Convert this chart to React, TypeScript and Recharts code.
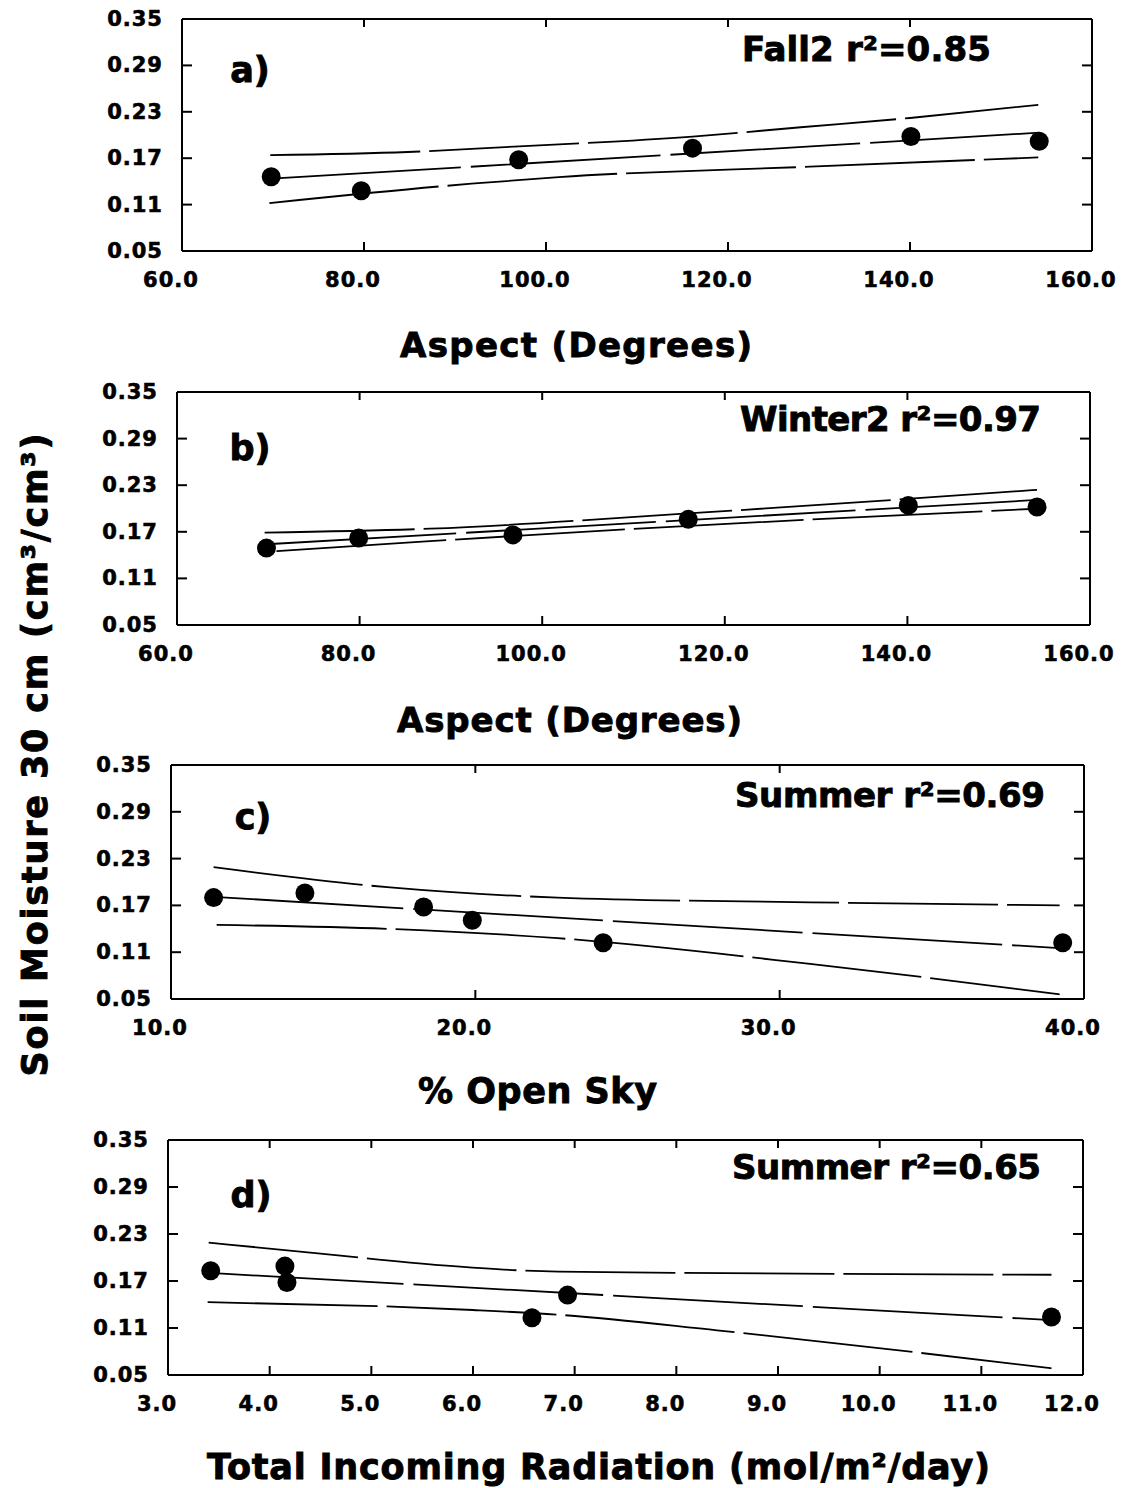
import { ComposedChart, Line, Scatter, XAxis, YAxis } from 'recharts';

type Pt = [number, number];

// a) Fall2: soil moisture against slope aspect
const fallAspect = [69.8, 79.7, 97.0, 116.1, 140.1, 154.2];
const fallMoisture = [0.146, 0.128, 0.168, 0.183, 0.198, 0.192];
const fallUpper: Pt[] = [[69.7, 0.174], [84.8, 0.178], [96.5, 0.185], [116.1, 0.198], [128, 0.21], [140, 0.222], [154.1, 0.239]];
const fallFit: Pt[] = [[69.8, 0.1435], [154.2, 0.203]];
const fallLower: Pt[] = [[69.6, 0.112], [91.8, 0.137], [101.4, 0.1456], [129, 0.159], [154.1, 0.171]];

// b) Winter2
const winterAspect = [69.8, 79.9, 96.8, 116.0, 140.1, 154.2];
const winterMoisture = [0.149, 0.162, 0.166, 0.186, 0.204, 0.202];
const winterUpper: Pt[] = [[69.6, 0.169], [87.7, 0.174], [115.1, 0.193], [154.2, 0.224]];
const winterFit: Pt[] = [[69.8, 0.154], [154.2, 0.211]];
const winterLower: Pt[] = [[70.9, 0.145], [87.7, 0.158], [115.1, 0.177], [154.2, 0.1997]];

// c) Summer vs % open sky
const skyOpen = [11.4, 14.4, 18.3, 19.9, 24.2, 39.3];
const skyMoisture = [0.180, 0.186, 0.168, 0.151, 0.122, 0.122];
const skyUpper: Pt[] = [[11.4, 0.219], [17.2, 0.193], [22.7, 0.180], [31, 0.174], [39.2, 0.170]];
const skyFit: Pt[] = [[11.4, 0.181], [39.3, 0.115]];
const skyLower: Pt[] = [[11.5, 0.145], [17.1, 0.140], [22.7, 0.128], [31.0, 0.095], [39.2, 0.056]];

// d) Summer vs total incoming radiation
const radiation = [3.42, 4.15, 4.17, 6.58, 6.93, 11.69];
const radMoisture = [0.183, 0.189, 0.168, 0.123, 0.152, 0.124];
const radUpper: Pt[] = [[3.4, 0.219], [4.5, 0.205], [5.7, 0.190], [6.84, 0.182], [11.69, 0.178]];
const radFit: Pt[] = [[3.45, 0.180], [11.69, 0.120]];
const radLower: Pt[] = [[3.39, 0.143], [6.0, 0.133], [6.83, 0.127], [8.4, 0.107], [11.69, 0.0585]];

const aspectTicks = [60, 80, 100, 120, 140, 160];
const skyTicks = [10, 20, 30, 40];
const radTicks = [3, 4, 5, 6, 7, 8, 9, 10, 11, 12];
const moistureTicks = [0.05, 0.11, 0.17, 0.23, 0.29, 0.35];

const W = 1125;
const H = 1488;
const FONT = '"DejaVu Sans", sans-serif';
const PAD_TOP = 20;
const PAD_BOTTOM = 50;
const LEFT_W = 70;
const BOTTOM_H = 45;
const MIRROR = 10;

const tickText = {
  fontFamily: FONT, fontWeight: 700, fontSize: 21, letterSpacing: 1, fill: '#000',
  stroke: '#000', strokeWidth: 0.6,
};
const labelText = { fontFamily: FONT, fontWeight: 700, fill: '#000', stroke: '#000', strokeWidth: 0.9 };

interface Box { left: number; right: number; top: number; bottom: number }

interface PanelProps {
  box: Box;
  xTicks: number[];
  xs: number[];
  ys: number[];
  upper: Pt[];
  fit: Pt[];
  lower: Pt[];
}

const rows = (pts: Pt[]) => pts.map(([x, y]) => ({ x, y }));
const inside = (v: number, ticks: number[]) => v !== ticks[0] && v !== ticks[ticks.length - 1];

function Panel({ box, xTicks, xs, ys, upper, fit, lower }: PanelProps) {
  const height = box.bottom - box.top + PAD_TOP + PAD_BOTTOM;
  const xDomain = [xTicks[0], xTicks[xTicks.length - 1]];
  const points = xs.map((x, i) => ({ x, y: ys[i] }));
  const axisLine = { stroke: '#000', strokeWidth: 2 };

  // x labels sit a little left of their tick marks
  const bottomTick = (p: any) => {
    const v = p.payload.value;
    return (
      <g>
        {inside(v, xTicks) && <line x1={p.x} x2={p.x} y1={p.y} y2={p.y - 9} stroke="#000" strokeWidth={2} />}
        <text x={p.x - 11} y={p.y + 29} textAnchor="middle" dominantBaseline="central" style={tickText}>
          {v.toFixed(1)}
        </text>
      </g>
    );
  };
  const topTick = (p: any) => {
    const v = p.payload.value;
    return <g>{inside(v, xTicks) && <line x1={p.x} x2={p.x} y1={p.y} y2={p.y + 8} stroke="#000" strokeWidth={2} />}</g>;
  };
  const leftTick = (p: any) => {
    const v = p.payload.value;
    return (
      <g>
        {inside(v, moistureTicks) && <line x1={p.x} x2={p.x + 10} y1={p.y} y2={p.y} stroke="#000" strokeWidth={2} />}
        <text x={p.x - 19} y={p.y} textAnchor="end" dominantBaseline="central" style={tickText}>
          {v.toFixed(2)}
        </text>
      </g>
    );
  };
  const rightTick = (p: any) => {
    const v = p.payload.value;
    return <g>{inside(v, moistureTicks) && <line x1={p.x} x2={p.x - 10} y1={p.y} y2={p.y} stroke="#000" strokeWidth={2} />}</g>;
  };

  return (
    <div style={{ position: 'absolute', left: 0, top: box.top - PAD_TOP }}>
      <ComposedChart
        width={W}
        height={height}
        margin={{
          top: PAD_TOP - MIRROR,
          bottom: PAD_BOTTOM - BOTTOM_H,
          left: box.left - LEFT_W,
          right: W - box.right - MIRROR,
        }}
      >
        <XAxis xAxisId="b" type="number" dataKey="x" domain={xDomain} ticks={xTicks} interval={0}
          allowDataOverflow height={BOTTOM_H} tickSize={0} tickMargin={0} tickLine={false} axisLine={axisLine} tick={bottomTick} />
        <XAxis xAxisId="t" orientation="top" type="number" dataKey="x" domain={xDomain} ticks={xTicks} interval={0}
          allowDataOverflow height={MIRROR} tickSize={0} tickMargin={0} tickLine={false} axisLine={axisLine} tick={topTick} />
        <YAxis yAxisId="l" type="number" dataKey="y" domain={[0.05, 0.35]} ticks={moistureTicks} interval={0}
          allowDataOverflow width={LEFT_W} tickSize={0} tickMargin={0} tickLine={false} axisLine={axisLine} tick={leftTick} />
        <YAxis yAxisId="r" orientation="right" type="number" dataKey="y" domain={[0.05, 0.35]} ticks={moistureTicks} interval={0}
          allowDataOverflow width={MIRROR} tickSize={0} tickMargin={0} tickLine={false} axisLine={axisLine} tick={rightTick} />

        <Line xAxisId="b" yAxisId="l" data={rows(upper)} dataKey="y" type="monotone" stroke="#000" strokeWidth={1.8}
          strokeDasharray="150 9" dot={false} activeDot={false} isAnimationActive={false} />
        <Line xAxisId="b" yAxisId="l" data={rows(fit)} dataKey="y" type="linear" stroke="#000" strokeWidth={1.8}
          strokeDasharray="190 10" dot={false} activeDot={false} isAnimationActive={false} />
        <Line xAxisId="b" yAxisId="l" data={rows(lower)} dataKey="y" type="monotone" stroke="#000" strokeWidth={1.8}
          strokeDasharray="170 9" dot={false} activeDot={false} isAnimationActive={false} />
        <Scatter xAxisId="b" yAxisId="l" data={points} fill="#000" isAnimationActive={false}
          shape={(p: any) => <circle cx={p.cx} cy={p.cy} r={9.5} fill="#000" />} />
      </ComposedChart>
    </div>
  );
}

const panelLetters = [
  { text: 'a)', x: 250, y: 70 },
  { text: 'b)', x: 250, y: 448 },
  { text: 'c)', x: 253, y: 817 },
  { text: 'd)', x: 251, y: 1195 },
];

const panelTitles = [
  { text: 'Fall2 r²=0.85', x: 742, y: 49, w: 249 },
  { text: 'Winter2 r²=0.97', x: 740, y: 419, w: 301 },
  { text: 'Summer r²=0.69', x: 735, y: 795, w: 310 },
  { text: 'Summer r²=0.65', x: 732, y: 1167, w: 309 },
];

const axisTitles = [
  { text: 'Aspect (Degrees)', x: 400, y: 345, w: 352, size: 34 },
  { text: 'Aspect (Degrees)', x: 397, y: 720, w: 345, size: 34 },
  { text: '% Open Sky', x: 418, y: 1091, w: 239, size: 35 },
  { text: 'Total Incoming Radiation (mol/m²/day)', x: 207, y: 1467, w: 783, size: 35 },
];

export default function App() {
  return (
    <div style={{ position: 'absolute', left: 0, top: 0, width: W, height: H, background: '#fff' }}>
      <Panel box={{ left: 182, right: 1092, top: 19, bottom: 251 }} xTicks={aspectTicks}
        xs={fallAspect} ys={fallMoisture} upper={fallUpper} fit={fallFit} lower={fallLower} />
      <Panel box={{ left: 177, right: 1090, top: 392, bottom: 625 }} xTicks={aspectTicks}
        xs={winterAspect} ys={winterMoisture} upper={winterUpper} fit={winterFit} lower={winterLower} />
      <Panel box={{ left: 171, right: 1084, top: 765, bottom: 999 }} xTicks={skyTicks}
        xs={skyOpen} ys={skyMoisture} upper={skyUpper} fit={skyFit} lower={skyLower} />
      <Panel box={{ left: 168, right: 1083, top: 1140, bottom: 1375 }} xTicks={radTicks}
        xs={radiation} ys={radMoisture} upper={radUpper} fit={radFit} lower={radLower} />

      <svg width={W} height={H} style={{ position: 'absolute', left: 0, top: 0, pointerEvents: 'none' }}>
        {panelLetters.map((l) => (
          <text key={l.text} x={l.x} y={l.y} textAnchor="middle" dominantBaseline="central" style={{ ...labelText, fontSize: 35 }}>
            {l.text}
          </text>
        ))}
        {panelTitles.map((t) => (
          <text key={t.text} x={t.x} y={t.y} dominantBaseline="central" textLength={t.w} lengthAdjust="spacing"
            style={{ ...labelText, fontSize: 34 }}>
            {t.text}
          </text>
        ))}
        {axisTitles.map((t, i) => (
          <text key={i} x={t.x} y={t.y} dominantBaseline="central" textLength={t.w} lengthAdjust="spacing"
            style={{ ...labelText, fontSize: t.size }}>
            {t.text}
          </text>
        ))}
        <text x={0} y={0} transform="translate(35 755) rotate(-90)" textAnchor="middle" dominantBaseline="central"
          textLength={643} lengthAdjust="spacing" style={{ ...labelText, fontSize: 35 }}>
          Soil Moisture 30 cm (cm³/cm³)
        </text>
      </svg>
    </div>
  );
}
